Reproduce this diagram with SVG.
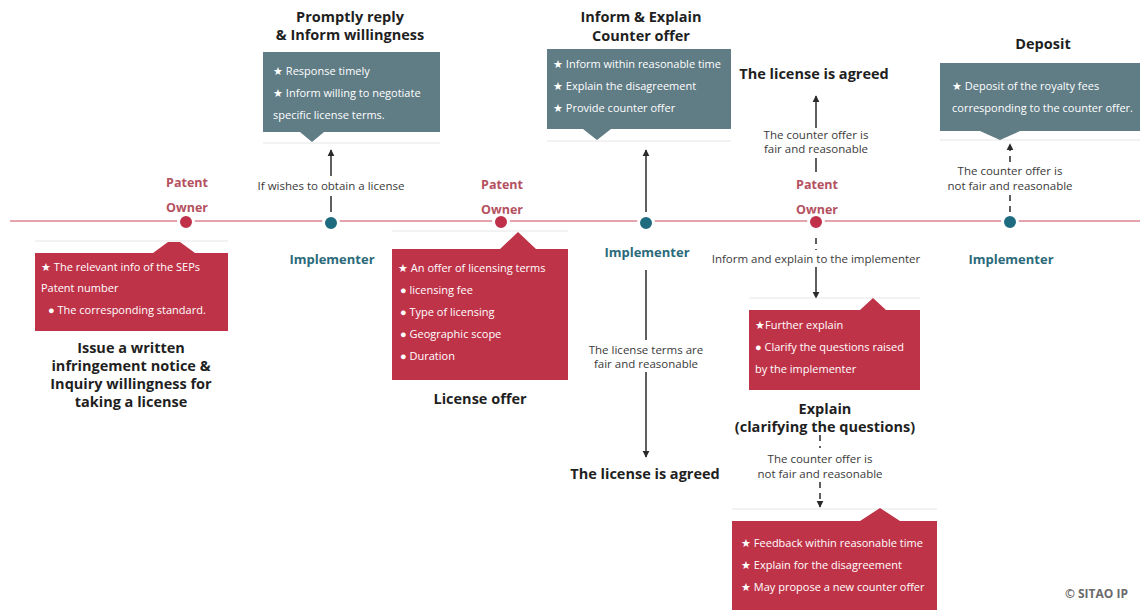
<svg xmlns="http://www.w3.org/2000/svg" width="1140" height="610" viewBox="0 0 1140 610">
  <defs>
    <style>
      .title { font-family: "Open Sans", "Noto Sans", sans-serif; font-weight: 700; font-size: 14.5px; fill: #1f1f1f; text-anchor: middle; }
      .body { font-family: "Open Sans", "Noto Sans", sans-serif; font-size: 11px; fill: #ffffff; }
      .label { font-family: "Open Sans", "Noto Sans", sans-serif; font-size: 11.5px; fill: #3a3a3a; text-anchor: middle; }
      .owner { font-family: "Open Sans", "Noto Sans", sans-serif; font-weight: 700; font-size: 12.5px; fill: #b4515f; text-anchor: middle; }
      .impl { font-family: "Open Sans", "Noto Sans", sans-serif; font-weight: 700; font-size: 13px; fill: #2b6a7a; text-anchor: middle; }
      .redbox { fill: #bf3349; }
      .graybox { fill: #607c85; }
      .sep { stroke: #e6e6e6; stroke-width: 1; }
      .conn { stroke: #2a2a2a; stroke-width: 1.5; fill: none; }
      .dash { stroke-dasharray: 6 5; }
      .redDot { fill: #c0304a; stroke: #ffffff; stroke-width: 3; }
      .tealDot { fill: #1e6b80; stroke: #ffffff; stroke-width: 3; }
    </style>
    <marker id="arrow" viewBox="0 0 10 10" refX="9" refY="5" markerWidth="7" markerHeight="9" markerUnits="userSpaceOnUse" orient="auto">
      <path d="M0,0 L10,5 L0,10 z" fill="#2a2a2a"/>
    </marker>
  </defs>

  <rect width="1140" height="610" fill="#ffffff"/>

  <!-- timeline -->
  <line x1="10" y1="221" x2="1140" y2="221" stroke="#e3a4ae" stroke-width="2"/>

  <!-- connectors -->
  <g id="connectors">
    <!-- implementer 1 up to reply box -->
    <line class="conn" x1="331" y1="212" x2="331" y2="196"/>
    <line class="conn" x1="331" y1="176" x2="331" y2="150" marker-end="url(#arrow)"/>
    <!-- implementer 2 up to counter offer box -->
    <line class="conn" x1="646" y1="212" x2="646" y2="150" marker-end="url(#arrow)"/>
    <!-- implementer 2 down to agreement -->
    <line class="conn" x1="646" y1="270" x2="646" y2="340"/>
    <line class="conn" x1="646" y1="372" x2="646" y2="457" marker-end="url(#arrow)"/>
    <!-- owner 3 up to agreement -->
    <line class="conn" x1="816" y1="172" x2="816" y2="158"/>
    <line class="conn" x1="816" y1="128" x2="816" y2="96" marker-end="url(#arrow)"/>
    <!-- owner 3 down to further explanation -->
    <line class="conn dash" x1="816" y1="238" x2="816" y2="250"/>
    <line class="conn" x1="816" y1="267" x2="816" y2="298" marker-end="url(#arrow)"/>
    <!-- explanation down to feedback -->
    <line class="conn dash" x1="820" y1="435" x2="820" y2="448"/>
    <line class="conn dash" x1="820" y1="482" x2="820" y2="507" marker-end="url(#arrow)"/>
    <!-- implementer 3 up to deposit -->
    <line class="conn dash" x1="1010" y1="212" x2="1010" y2="194"/>
    <line class="conn dash" x1="1010" y1="162" x2="1010" y2="144" marker-end="url(#arrow)"/>
  </g>

  <!-- connector labels -->
  <g id="connector-labels">
    <text class="label" x="331" y="190">If wishes to obtain a license</text>
    <text class="label" x="646" y="354">The license terms are</text>
    <text class="label" x="646" y="368">fair and reasonable</text>
    <text class="label" x="816" y="139">The counter offer is</text>
    <text class="label" x="816" y="153">fair and reasonable</text>
    <text class="label" x="816" y="263">Inform and explain to the implementer</text>
    <text class="label" x="820" y="463">The counter offer is</text>
    <text class="label" x="820" y="478">not fair and reasonable</text>
    <text class="label" x="1010" y="175">The counter offer is</text>
    <text class="label" x="1010" y="190">not fair and reasonable</text>
  </g>

  <!-- step 1: written notice -->
  <g id="owner-1">
    <text class="owner" x="187" y="187">Patent</text>
    <text class="owner" x="187" y="212">Owner</text>
    <circle class="redDot" cx="186" cy="222" r="7.5"/>
  </g>
  <g id="notice">
    <line class="sep" x1="35" y1="241" x2="228" y2="241"/>
    <path class="redbox" d="M35,253 H153 L168,242 H180 L195,253 H228 V331 H35 Z"/>
    <text class="body" x="41" y="271">★ The relevant info of the SEPs</text>
    <text class="body" x="41" y="292">Patent number</text>
    <text class="body" x="48" y="314">● The corresponding standard.</text>
    <text class="title" x="131" y="353">Issue a written</text>
    <text class="title" x="131" y="371">infringement notice &amp;</text>
    <text class="title" x="131" y="389">Inquiry willingness for</text>
    <text class="title" x="131" y="407">taking a license</text>
  </g>

  <!-- step 2: reply -->
  <g id="implementer-1">
    <circle class="tealDot" cx="331" cy="223" r="7.5"/>
    <text class="impl" x="332" y="264">Implementer</text>
  </g>
  <g id="reply">
    <text class="title" x="350" y="22">Promptly reply</text>
    <text class="title" x="350" y="40">&amp; Inform willingness</text>
    <line class="sep" x1="263" y1="143" x2="440" y2="143"/>
    <path class="graybox" d="M263,52 H440 V132 H324 L312,142 L300,132 H263 Z"/>
    <text class="body" x="273" y="75">★ Response timely</text>
    <text class="body" x="273" y="97">★ Inform willing to negotiate</text>
    <text class="body" x="273" y="119">specific license terms.</text>
  </g>

  <!-- step 3: license offer -->
  <g id="owner-2">
    <text class="owner" x="502" y="189">Patent</text>
    <text class="owner" x="502" y="214">Owner</text>
    <circle class="redDot" cx="501" cy="222" r="7.5"/>
  </g>
  <g id="offer">
    <line class="sep" x1="392" y1="231" x2="568" y2="231"/>
    <path class="redbox" d="M392,249 H500 L518,232 L536,249 H568 V380 H392 Z"/>
    <text class="body" x="398" y="272">★ An offer of licensing terms</text>
    <text class="body" x="400" y="294">● licensing fee</text>
    <text class="body" x="400" y="316">● Type of licensing</text>
    <text class="body" x="400" y="338">● Geographic scope</text>
    <text class="body" x="400" y="360">● Duration</text>
    <text class="title" x="480" y="404">License offer</text>
  </g>

  <!-- step 4: counter offer -->
  <g id="implementer-2">
    <circle class="tealDot" cx="646" cy="223" r="7.5"/>
    <text class="impl" x="647" y="257">Implementer</text>
  </g>
  <g id="counter-offer">
    <text class="title" x="641" y="22">Inform &amp; Explain</text>
    <text class="title" x="641" y="41">Counter offer</text>
    <line class="sep" x1="547" y1="141" x2="731" y2="141"/>
    <path class="graybox" d="M547,49 H731 V129 H611 L597,140 L583,129 H547 Z"/>
    <text class="body" x="553" y="68">★ Inform within reasonable time</text>
    <text class="body" x="553" y="90">★ Explain the disagreement</text>
    <text class="body" x="553" y="112">★ Provide counter offer</text>
  </g>
  <g id="agreed-1">
    <text class="title" x="645" y="479">The license is agreed</text>
  </g>

  <!-- step 5: explanation -->
  <g id="owner-3">
    <text class="owner" x="817" y="189">Patent</text>
    <text class="owner" x="817" y="214">Owner</text>
    <circle class="redDot" cx="816" cy="222" r="7.5"/>
  </g>
  <g id="agreed-2">
    <text class="title" x="814" y="79">The license is agreed</text>
  </g>
  <g id="explain">
    <line class="sep" x1="749" y1="298" x2="920" y2="298"/>
    <path class="redbox" d="M749,310 H860 L873,298 L886,310 H920 V390 H749 Z"/>
    <text class="body" x="755" y="329">★Further explain</text>
    <text class="body" x="755" y="351">● Clarify the questions raised</text>
    <text class="body" x="755" y="373">by the implementer</text>
    <text class="title" x="825" y="414">Explain</text>
    <text class="title" x="825" y="432">(clarifying the questions)</text>
  </g>
  <g id="feedback">
    <line class="sep" x1="732" y1="509" x2="937" y2="509"/>
    <path class="redbox" d="M732,521 H860 L880,508 L900,521 H937 V610 H732 Z"/>
    <text class="body" x="741" y="547">★ Feedback within reasonable time</text>
    <text class="body" x="741" y="569">★ Explain for the disagreement</text>
    <text class="body" x="741" y="591">★ May propose a new counter offer</text>
  </g>

  <!-- step 6: deposit -->
  <g id="implementer-3">
    <circle class="tealDot" cx="1010" cy="222" r="7.5"/>
    <text class="impl" x="1011" y="264">Implementer</text>
  </g>
  <g id="deposit">
    <text class="title" x="1043" y="49">Deposit</text>
    <line class="sep" x1="940" y1="140" x2="1140" y2="140"/>
    <path class="graybox" d="M940,63 H1140 V131 H1020 L1000,140 L980,131 H940 Z"/>
    <text class="body" x="952" y="90">★ Deposit of the royalty fees</text>
    <text class="body" x="952" y="112">corresponding to the counter offer.</text>
  </g>

  <text x="1128" y="598" text-anchor="end" font-family="Open Sans, Noto Sans, sans-serif" font-weight="700" font-size="12" fill="#6b6b6b">© SITAO IP</text>
</svg>
